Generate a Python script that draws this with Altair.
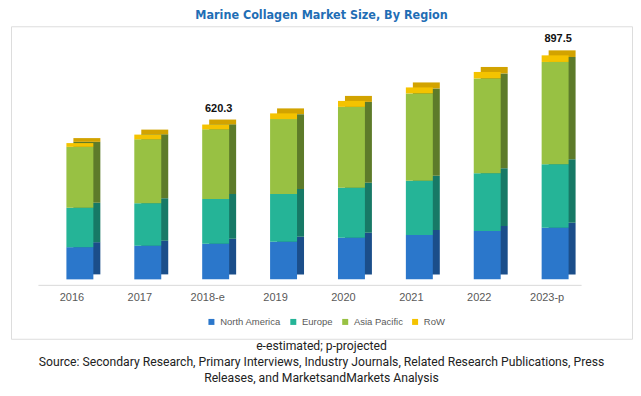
import altair as alt
import pandas as pd

# ---- data ----
years = ["2016", "2017", "2018-e", "2019", "2020", "2021", "2022", "2023-p"]
regions = ["North America", "Europe", "Asia Pacific", "RoW"]
north_america = [129, 135, 143, 151, 167, 178, 194, 207]
europe = [158, 170, 179, 191, 200, 217, 231, 254]
asia_pacific = [244, 256, 279, 300, 324, 350, 380, 410]
row_values = [15, 19, 19.3, 23, 24, 24, 26, 26.5]
label_years = ["2018-e", "2023-p"]
label_values = [620.3, 897.5]

front_colors = ["#2B77CB", "#25B497", "#98C143", "#F4C300"]
side_colors = ["#1B4E8A", "#177966", "#5D7B2A", "#D2A300"]

series = [north_america, europe, asia_pacific, row_values]
records = []
for i, yr in enumerate(years):
    for k, (reg, vals) in enumerate(zip(regions, series)):
        records.append({"year": yr, "region": reg, "order": k, "value": vals[i]})
df = pd.DataFrame(records)
labels_df = pd.DataFrame({"year": label_years, "value": label_values})

x_scale = alt.Scale(domain=years, range=[27, 571], paddingInner=0.603, paddingOuter=0.3015)
y_scale = alt.Scale(domain=[-238, 1014], nice=False, zero=False)


def x_axis():
    return alt.Axis(title=None, orient="bottom", offset=-54, domainColor="#D9D9D9",
                    ticks=False, labelPadding=7, labelFont="Liberation Sans",
                    labelFontSize=11, labelColor="#595959", labelAngle=0, grid=False)


back = alt.Chart(df).mark_bar(xOffset=15, x2Offset=15, yOffset=-5, y2Offset=-5).encode(
    x=alt.X("year:N", scale=x_scale, sort=years, axis=x_axis()),
    y=alt.Y("value:Q", stack="zero", scale=y_scale, axis=None),
    color=alt.Color("region:N", scale=alt.Scale(domain=regions, range=side_colors), legend=None),
    order=alt.Order("order:Q"),
)

front = alt.Chart(df).mark_bar(xOffset=8, x2Offset=8).encode(
    x=alt.X("year:N", scale=x_scale, sort=years, axis=x_axis()),
    y=alt.Y("value:Q", stack="zero", scale=y_scale, axis=None),
    color=alt.Color(
        "region:N",
        scale=alt.Scale(domain=regions, range=front_colors),
        sort=regions,
        legend=alt.Legend(title=None, orient="none", legendX=196, legendY=291,
                          direction="horizontal", symbolType="square", symbolSize=36,
                          symbolStrokeWidth=0, labelFont="Liberation Sans", labelFontSize=9.5,
                          labelColor="#595959", columnPadding=7, labelOffset=4),
    ),
    order=alt.Order("order:Q"),
)

text = alt.Chart(labels_df).mark_text(
    dx=11, dy=-16, fontSize=11, fontWeight="bold", font="Liberation Sans", color="#111111"
).encode(
    x=alt.X("year:N", scale=x_scale, sort=years, axis=x_axis()),
    y=alt.Y("value:Q", scale=y_scale, axis=None),
    text=alt.Text("value:Q", format=".1f"),
)

inner = alt.layer(back, front, text).resolve_scale(color="independent").properties(
    width=622,
    height=313,
    title=alt.TitleParams("Marine Collagen Market Size, By Region",
                          font="DejaVu Sans Condensed, sans-serif",
                          fontSize=12.5, fontWeight="bold", color="#1F6EB5", offset=5,
                          anchor="middle"),
)

chart = alt.vconcat(
    inner,
    padding={"left": 2, "top": 0, "right": 0, "bottom": 0},
    title=alt.TitleParams(
        ["e-estimated; p-projected",
         "Source: Secondary Research, Primary Interviews, Industry Journals, Related Research Publications, Press",
         "Releases, and MarketsandMarkets Analysis"],
        orient="bottom", anchor="middle",
        font="Roboto, sans-serif", fontSize=12.2,
        fontWeight="normal", color="#222222", lineHeight=16, offset=1),
).configure_view(stroke="#D9D9D9", strokeWidth=1).configure(background="white")

chart.save("out.html", embed_options={"renderer": "svg", "actions": False})
